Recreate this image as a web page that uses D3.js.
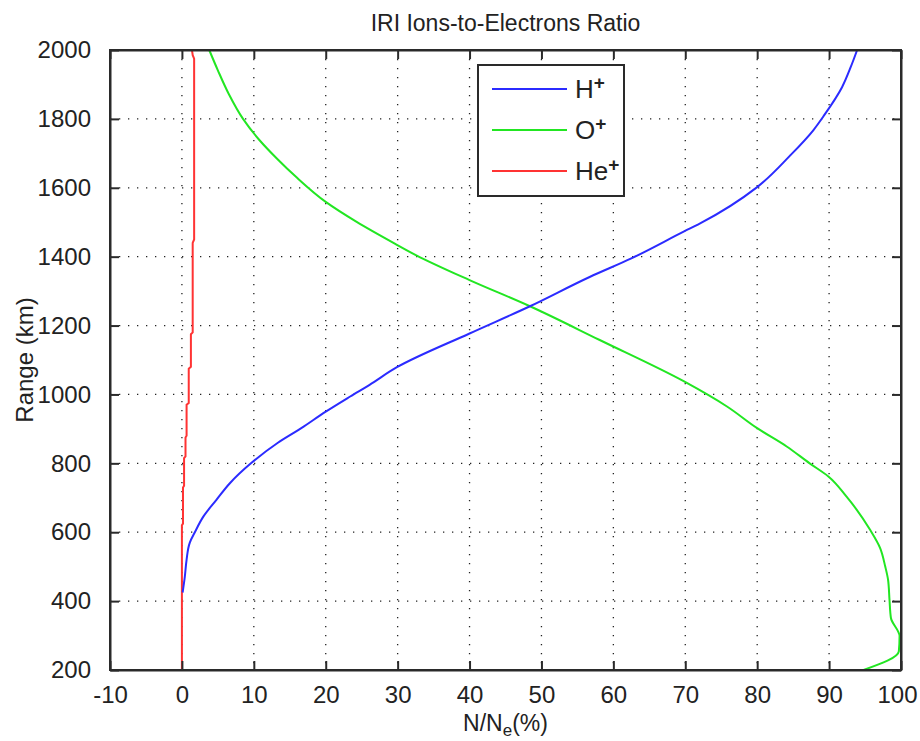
<!DOCTYPE html>
<html lang="en">
<head>
    <meta charset="UTF-8">
    <title>IRI Ions-to-Electrons Ratio</title>
    <script src="https://d3js.org/d3.v7.min.js"></script>
    <style>
        body { margin: 0; background: #fff; }
        svg text { font-family: "Liberation Sans Narrow", "Liberation Sans", Arial, sans-serif; fill: #222; }
        .grid line { stroke: #222; stroke-width: 1.3; stroke-dasharray: 1.3,7.7; }
        .axis path, .axis line { stroke: #2a2a2a; stroke-width: 2; }
        .axis text { font-size: 24px; }
        .series { fill: none; stroke-width: 2; }
    </style>
</head>
<body>
    <div id="chart"></div>
    <script>
        // tick values
        const xTicks = [-10, 0, 10, 20, 30, 40, 50, 60, 70, 80, 90, 100];
        const yTicks = [200, 400, 600, 800, 1000, 1200, 1400, 1600, 1800, 2000];

        // H+ (altitude km, percent)
        const hAlt = [425, 470, 520, 570, 600, 646, 694, 743, 800, 859, 902, 950, 994, 1028, 1079, 1177, 1256, 1341, 1395, 1474, 1496, 1602, 1694, 1767, 1810, 1892, 1950, 2000];
        const hVal = [0.1, 0.4, 0.65, 1.1, 1.8, 3.0, 4.8, 6.7, 9.6, 13.3, 16.6, 20, 23.4, 26.1, 29.9, 40, 48.4, 56.7, 62.5, 69.9, 72, 80, 84.6, 87.8, 89.3, 91.8, 93.0, 93.9];

        // O+
        const oAlt = [200, 254, 298, 351, 404, 462, 501, 554, 607, 704, 762, 800, 849, 902, 965, 1037, 1158, 1256, 1332, 1404, 1438, 1501, 1559, 1631, 1685, 1738, 1800, 1873, 1941, 2000];
        const oVal = [94.8, 99.7, 99.8, 98.6, 98.4, 98.2, 97.8, 97.1, 95.7, 92.4, 89.9, 87.3, 84.1, 80, 75.8, 69.9, 58.1, 48.4, 40, 32.6, 29.6, 24.3, 20, 15.9, 13.2, 10.8, 8.5, 6.5, 5.0, 3.8];

        // He+
        const heAlt = [200, 620, 625, 730, 735, 815, 820, 875, 880, 970, 975, 1075, 1080, 1175, 1180, 1440, 1450, 1975, 1985, 2000];
        const heVal = [0, 0, 0.15, 0.15, 0.3, 0.3, 0.5, 0.5, 0.65, 0.65, 0.95, 0.95, 1.25, 1.25, 1.5, 1.5, 1.7, 1.7, 1.5, 1.4];

        const seriesNames = ["H", "O", "He"];
        const seriesColors = ["#2b2bff", "#22e622", "#ff3333"];

        const width = 920, height = 741;
        const margin = {top: 50, right: 19, bottom: 71, left: 110};
        const w = width - margin.left - margin.right;
        const h = height - margin.top - margin.bottom;

        const svg = d3.select("#chart").append("svg")
            .attr("width", width)
            .attr("height", height);

        const g = svg.append("g")
            .attr("transform", "translate(" + margin.left + "," + margin.top + ")");

        const x = d3.scaleLinear().domain([-10, 100]).range([0, w]);
        const y = d3.scaleLinear().domain([200, 2000]).range([h, 0]);

        // dotted grid
        const grid = g.append("g").attr("class", "grid");
        grid.selectAll(".vg")
            .data(xTicks.slice(1, -1))
            .enter().append("line")
            .attr("x1", d => x(d)).attr("x2", d => x(d))
            .attr("y1", 0).attr("y2", h);
        grid.selectAll(".hg")
            .data(yTicks.slice(1, -1))
            .enter().append("line")
            .attr("x1", 0).attr("x2", w)
            .attr("y1", d => y(d)).attr("y2", d => y(d));

        // data lines, x as a function of altitude
        const smooth = d3.line()
            .curve(d3.curveMonotoneY)
            .x(d => x(d[1]))
            .y(d => y(d[0]));
        const straight = d3.line()
            .x(d => x(d[1]))
            .y(d => y(d[0]));

        const series = [
            d3.zip(hAlt, hVal),
            d3.zip(oAlt, oVal),
            d3.zip(heAlt, heVal)
        ];

        // red drawn first so blue sits on top near the bottom
        [2, 1, 0].forEach(function(i) {
            g.append("path")
                .attr("class", "series")
                .attr("stroke", seriesColors[i])
                .attr("d", (i == 2 ? straight : smooth)(series[i]));
        });

        const fmt = d => String(d);

        // axes with inward ticks on all four sides
        g.append("g").attr("class", "axis")
            .attr("transform", "translate(0," + h + ")")
            .call(d3.axisBottom(x).tickValues(xTicks).tickFormat(fmt).tickSize(-9).tickPadding(19).tickSizeOuter(0))
            .selectAll("text")
            .attr("dy", "0.6em")
            .attr("dx", d => d == 100 ? -4 : 0);
        g.append("g").attr("class", "axis")
            .call(d3.axisTop(x).tickValues(xTicks).tickSize(-9).tickSizeOuter(0).tickFormat(""));
        g.append("g").attr("class", "axis")
            .call(d3.axisLeft(y).tickValues(yTicks).tickFormat(fmt).tickSize(-9).tickPadding(19).tickSizeOuter(0));
        g.append("g").attr("class", "axis")
            .attr("transform", "translate(" + w + ",0)")
            .call(d3.axisRight(y).tickValues(yTicks).tickSize(-9).tickSizeOuter(0).tickFormat(""));

        g.append("rect")
            .attr("width", w).attr("height", h)
            .attr("fill", "none")
            .attr("stroke", "#2a2a2a")
            .attr("stroke-width", 2);

        // title and labels
        svg.append("text")
            .attr("x", margin.left + w / 2)
            .attr("y", 31)
            .attr("text-anchor", "middle")
            .style("font-size", "23px")
            .text("IRI Ions-to-Electrons Ratio");

        const xl = svg.append("text")
            .attr("x", margin.left + w / 2)
            .attr("y", 731)
            .attr("text-anchor", "middle")
            .style("font-size", "23px");
        xl.append("tspan").text("N/N");
        xl.append("tspan").attr("dy", 5).style("font-size", "17px").text("e");
        xl.append("tspan").attr("dy", -5).text("(%)");

        svg.append("text")
            .attr("transform", "translate(33," + (margin.top + h / 2) + ") rotate(-90)")
            .attr("text-anchor", "middle")
            .style("font-size", "24px")
            .text("Range (km)");

        // legend
        const legend = svg.append("g").attr("transform", "translate(478,65)");
        legend.append("rect")
            .attr("width", 146).attr("height", 131)
            .attr("fill", "#fff")
            .attr("stroke", "#2a2a2a")
            .attr("stroke-width", 2);
        seriesNames.forEach(function(name, i) {
            const ly = 24 + i * 41;
            legend.append("line")
                .attr("x1", 14).attr("x2", 89)
                .attr("y1", ly).attr("y2", ly)
                .attr("stroke", seriesColors[i])
                .attr("stroke-width", 2);
            const t = legend.append("text")
                .attr("x", 97).attr("y", ly + 9)
                .style("font-size", "26px");
            t.append("tspan").text(name);
            t.append("tspan").attr("dy", -9).style("font-size", "19px").style("font-weight", "bold").text("+");
        });
    </script>
</body>
</html>
